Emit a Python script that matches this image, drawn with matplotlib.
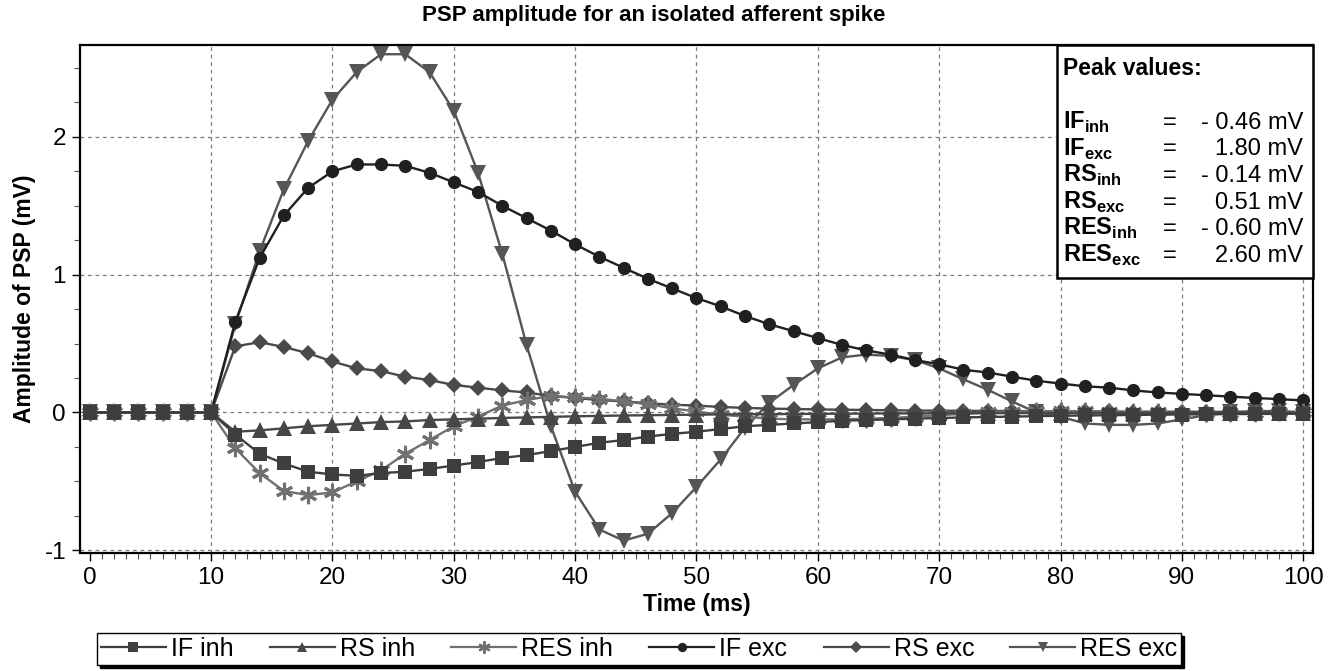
import matplotlib
matplotlib.use("Agg")
import matplotlib.pyplot as plt
from matplotlib.lines import Line2D
from matplotlib.patches import Rectangle
from matplotlib.ticker import MultipleLocator

plt.rcParams['font.family'] = ['Liberation Sans', 'DejaVu Sans']
plt.rcParams['mathtext.fontset'] = 'custom'
plt.rcParams['mathtext.rm'] = 'Liberation Sans'
plt.rcParams['mathtext.bf'] = 'Liberation Sans:bold'
plt.rcParams['axes.unicode_minus'] = False

# ---------------- data ----------------
time_ms = [0, 2, 4, 6, 8, 10, 12, 14, 16, 18, 20, 22, 24, 26, 28, 30, 32, 34, 36, 38,
           40, 42, 44, 46, 48, 50, 52, 54, 56, 58, 60, 62, 64, 66, 68, 70, 72, 74, 76, 78,
           80, 82, 84, 86, 88, 90, 92, 94, 96, 98, 100]

pre = [0, 0, 0, 0, 0, 0]

if_inh = pre + [-0.16, -0.30, -0.37, -0.43, -0.45, -0.46, -0.44, -0.43, -0.41, -0.385,
                -0.36, -0.33, -0.31, -0.28, -0.25, -0.22, -0.20, -0.175, -0.155, -0.14,
                -0.12, -0.10, -0.09, -0.08, -0.07, -0.06, -0.055, -0.05, -0.045, -0.04,
                -0.036, -0.033, -0.03, -0.027, -0.024, -0.022, -0.02, -0.018, -0.016, -0.015,
                -0.013, -0.012, -0.011, -0.01, -0.009]

rs_inh = pre + [-0.14, -0.13, -0.115, -0.10, -0.09, -0.08, -0.07, -0.065, -0.055, -0.05,
                -0.045, -0.04, -0.036, -0.032, -0.028, -0.025, -0.022, -0.02, -0.018, -0.016,
                -0.014, -0.013, -0.012, -0.011, -0.010, -0.009, -0.008, -0.007, -0.007, -0.006,
                -0.006, -0.005, -0.005, -0.004, -0.004, -0.004, -0.003, -0.003, -0.003, -0.003,
                -0.002, -0.002, -0.002, -0.002, -0.002]

res_inh = pre + [-0.26, -0.44, -0.57, -0.60, -0.58, -0.50, -0.42, -0.30, -0.20, -0.10,
                 -0.03, 0.05, 0.09, 0.12, 0.11, 0.10, 0.08, 0.06, 0.03, 0.007,
                 -0.017, -0.03, -0.045, -0.05, -0.05, -0.05, -0.045, -0.04, -0.03, -0.02,
                 -0.01, 0.0, 0.005, 0.01, 0.01, 0.01, 0.005, 0.0, 0.0, -0.005,
                 -0.005, -0.005, -0.003, 0.0, 0.0]

if_exc = pre + [0.66, 1.12, 1.43, 1.63, 1.75, 1.80, 1.80, 1.79, 1.74, 1.67,
                1.60, 1.50, 1.41, 1.32, 1.22, 1.13, 1.05, 0.97, 0.90, 0.83,
                0.77, 0.70, 0.64, 0.59, 0.54, 0.49, 0.45, 0.42, 0.38, 0.35,
                0.31, 0.29, 0.26, 0.23, 0.21, 0.19, 0.18, 0.16, 0.145, 0.135,
                0.125, 0.115, 0.105, 0.097, 0.087]

rs_exc = pre + [0.48, 0.51, 0.475, 0.43, 0.37, 0.32, 0.30, 0.26, 0.235, 0.20,
                0.18, 0.16, 0.145, 0.12, 0.105, 0.09, 0.08, 0.068, 0.056, 0.05,
                0.04, 0.033, 0.028, 0.025, 0.022, 0.02, 0.018, 0.016, 0.014, 0.013,
                0.012, 0.011, 0.010, 0.009, 0.008, 0.008, 0.007, 0.006, 0.006, 0.005,
                0.005, 0.004, 0.004, 0.004, 0.003]

res_exc = pre + [0.64, 1.17, 1.62, 1.97, 2.27, 2.47, 2.60, 2.60, 2.47, 2.19,
                 1.74, 1.15, 0.49, -0.10, -0.575, -0.85, -0.93, -0.88, -0.73, -0.54,
                 -0.34, -0.11, 0.07, 0.20, 0.32, 0.40, 0.42, 0.41, 0.38, 0.32,
                 0.24, 0.165, 0.08, 0.0, -0.03, -0.08, -0.09, -0.09, -0.08, -0.05,
                 -0.02, 0.0, 0.01, 0.01, 0.0]

series_labels = ["IF inh", "RS inh", "RES inh", "IF exc", "RS exc", "RES exc"]

peak_names = [("IF", "inh"), ("IF", "exc"), ("RS", "inh"), ("RS", "exc"), ("RES", "inh"), ("RES", "exc")]
peak_values = ["- 0.46 mV", "1.80 mV", "- 0.14 mV", "0.51 mV", "- 0.60 mV", "2.60 mV"]

# ---------------- styles ----------------
styles = {
    "IF inh":  dict(color="#3e3e3e", marker="s", ms=9.5, mew=0),
    "RS inh":  dict(color="#474747", marker="^", ms=11, mew=0),
    "RES inh": dict(color="#707070", marker=(6, 2, 0), ms=12.5, mew=2.2),
    "IF exc":  dict(color="#202020", marker="o", ms=9.5, mew=0),
    "RS exc":  dict(color="#4a4a4a", marker="D", ms=8.5, mew=0),
    "RES exc": dict(color="#555555", marker="v", ms=11, mew=0),
}
data = {"IF inh": if_inh, "RS inh": rs_inh, "RES inh": res_inh,
        "IF exc": if_exc, "RS exc": rs_exc, "RES exc": res_exc}

fig = plt.figure(figsize=(13.38, 6.71), dpi=100)
ax = fig.add_axes([80 / 1338, 1 - 553 / 671, 1233 / 1338, 508 / 671])

for z, name in enumerate(reversed(series_labels)):
    st = styles[name]
    ax.plot(time_ms, data[name], color=st["color"], lw=1.7,
            marker=st["marker"], markersize=st["ms"], markeredgewidth=st["mew"],
            markerfacecolor=st["color"], markeredgecolor=st["color"], zorder=3 + z)

ax.set_xlim(-0.8, 100.8)
ax.set_ylim(-1.02, 2.667)
ax.xaxis.set_major_locator(MultipleLocator(10))
ax.xaxis.set_minor_locator(MultipleLocator(1))
ax.yaxis.set_major_locator(MultipleLocator(1))
ax.yaxis.set_minor_locator(MultipleLocator(0.25))
ax.tick_params(axis='both', which='major', direction='out', length=6, width=1.0,
               labelsize=17.5, pad=4, colors='black')
ax.tick_params(axis='both', which='minor', direction='out', length=4, width=0.8, colors='#555555')
for sp in ax.spines.values():
    sp.set_linewidth(1.6)
    sp.set_color('black')

ax.grid(True, which='major', linestyle=(0, (3, 3)), color='#7a7a7a', linewidth=0.9, zorder=0)
ax.set_axisbelow(True)
fig.canvas.draw()
for gl, tv in zip(ax.get_xgridlines(), ax.get_xticks()):
    if abs(tv) < 1e-9:
        gl.set_visible(False)

fig.text(654 / 1338, 1 - 15 / 671, "PSP amplitude for an isolated afferent spike",
         ha='center', va='center', fontsize=16, fontweight='bold')
fig.text(25 / 1338, 1 - 299 / 671, "Amplitude of PSP (mV)", rotation=90,
         ha='center', va='center', fontsize=16.5, fontweight='bold')
fig.text(697 / 1338, 1 - 604 / 671, "Time (ms)", ha='center', va='center',
         fontsize=16.5, fontweight='bold')

# Peak value box
ax.add_patch(Rectangle((0.792, 0.541), 0.208, 0.459, transform=ax.transAxes,
                       facecolor='white', edgecolor='black', linewidth=1.8,
                       zorder=20, clip_on=False))
ax.text(0.797, 0.941, "Peak values:", transform=ax.transAxes, ha='left', va='baseline',
        fontsize=16.5, fontweight='bold', zorder=21)
step = 26.6 / 508
for i, ((nm, sub), val) in enumerate(zip(peak_names, peak_values)):
    yb = 0.835 - i * step
    ax.text(0.797, yb, r"$\mathbf{%s}_{\mathbf{%s}}$" % (nm, sub), transform=ax.transAxes,
            ha='left', va='baseline', fontsize=17, zorder=21)
    ax.text(0.884, yb, "=", transform=ax.transAxes, ha='center', va='baseline',
            fontsize=17, zorder=21)
    ax.text(0.992, yb, val, transform=ax.transAxes, ha='right', va='baseline',
            fontsize=17, zorder=21)

# legend
leg_handles = []
for name in series_labels:
    st = styles[name]
    leg_handles.append(Line2D([], [], color=st["color"], lw=1.6, marker=st["marker"],
                              markersize=st["ms"] * 0.7, markeredgewidth=st["mew"] * 0.7,
                              markerfacecolor=st["color"], markeredgecolor=st["color"]))
leg = fig.legend(leg_handles, series_labels, loc='center left',
                 bbox_to_anchor=(97 / 1338, 1 - 649 / 671), ncol=6, fontsize=18,
                 frameon=True, fancybox=False, edgecolor='black', framealpha=1,
                 shadow={'color': 'black', 'alpha': 1},
                 handlelength=2.6, handletextpad=0.2, columnspacing=1.45,
                 borderpad=0.15, borderaxespad=0)
leg.get_frame().set_linewidth(1.0)

fig.savefig("out.png", dpi=100)
